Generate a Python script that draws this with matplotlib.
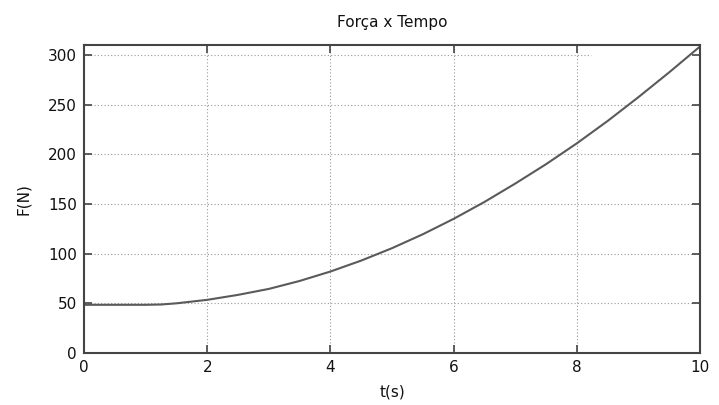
import matplotlib
matplotlib.use("Agg")
import matplotlib.pyplot as plt

t_values = [0, 0.5, 1, 1.25, 1.5, 2, 2.5, 3, 3.5, 4, 4.5, 5, 5.5, 6, 6.5, 7, 7.5, 8, 8.5, 9, 9.5, 10]
force_values = [48.5, 48.5, 48.5, 48.8, 50, 53.5, 58.5, 64.5, 72.5, 82, 93, 105.5, 119.5, 135, 152, 170.5, 190, 211, 233.5, 257.5, 282.5, 308.5]
x_ticks = [0, 2, 4, 6, 8, 10]
y_ticks = [0, 50, 100, 150, 200, 250, 300]
title = "Força x Tempo"
xlabel = "t(s)"
ylabel = "F(N)"

plt.rcParams['font.family'] = ['DejaVu Sans']
fig = plt.figure(figsize=(7.19, 4.05), dpi=100)
ax = fig.add_axes([84/719, 1 - 353/405, (700 - 84)/719, (353 - 45)/405])

ax.plot(t_values, force_values, color="#5a5a5a", linewidth=1.5, solid_joinstyle="round")
ax.set_xlim(0, 10)
ax.set_ylim(0, 310)
ax.set_xticks(x_ticks)
ax.set_yticks(y_ticks)

grid_kw = dict(color="#9a9a9a", linestyle=(0, (1, 2)), linewidth=0.8, zorder=0)
for x in x_ticks[1:-1]:
    ax.axvline(x, **grid_kw)
for y in y_ticks[1:]:
    if y == 300:
        ax.axhline(y, xmin=0, xmax=0.823, **grid_kw)
    else:
        ax.axhline(y, **grid_kw)

ax.tick_params(direction="in", length=6, width=1.2, color="#444444",
               top=True, right=True, labelsize=11, labelcolor="#111111", pad=5)
for s in ax.spines.values():
    s.set_linewidth(1.5)
    s.set_color("#444444")

ax.set_title(title, fontsize=11, pad=13, color="#111111")
ax.set_xlabel(xlabel, fontsize=11, labelpad=7, color="#111111")
ax.set_ylabel(ylabel, fontsize=11, labelpad=12, color="#111111")

fig.savefig("out.png", dpi=100)
